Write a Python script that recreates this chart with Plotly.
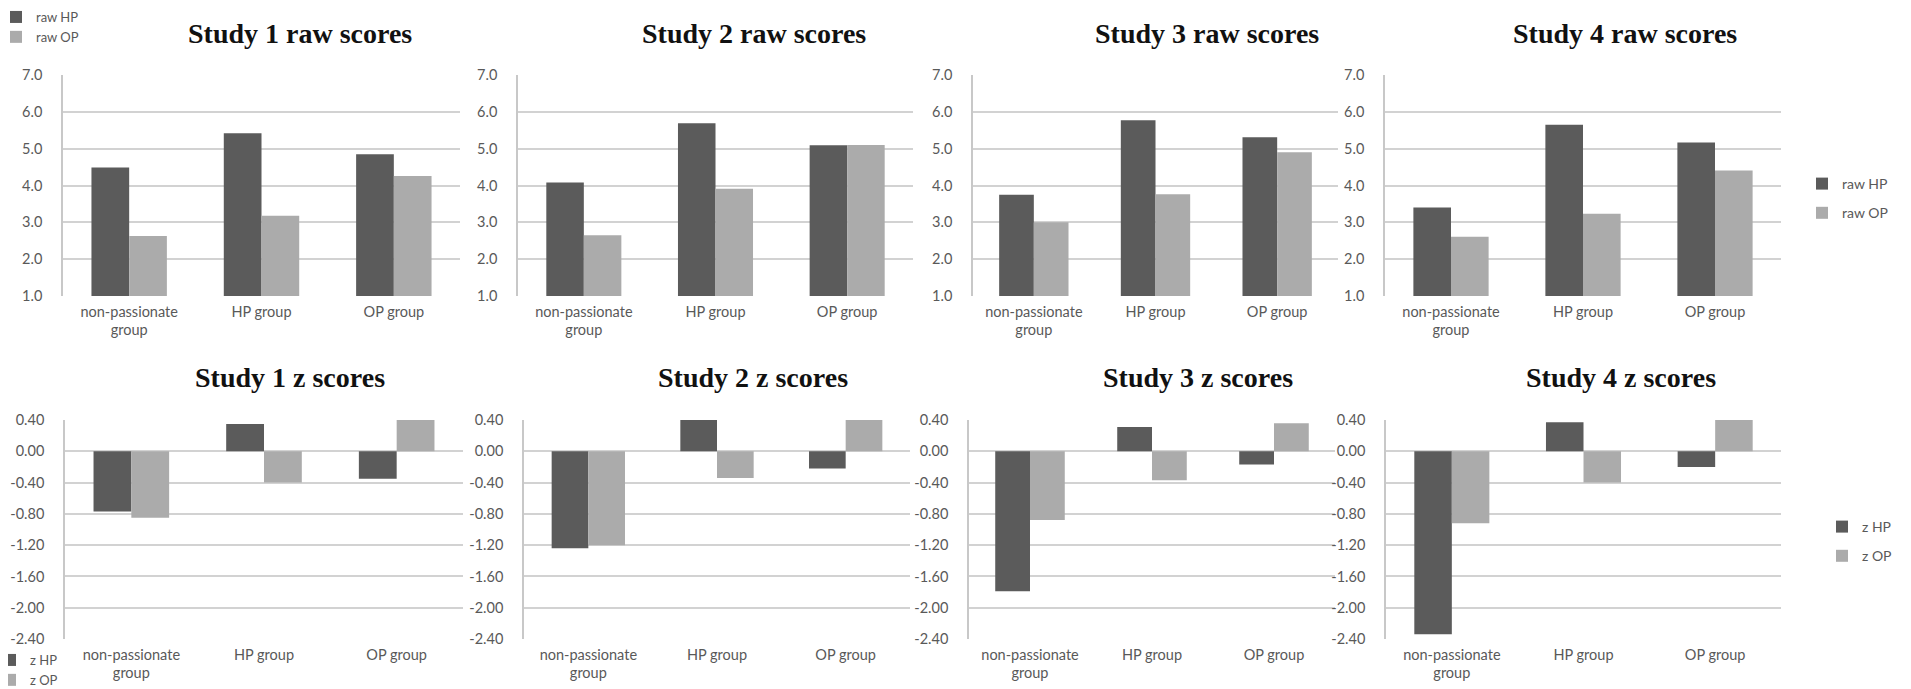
import plotly.graph_objects as go

# ---------------- data ----------------
categories = ["non-passionate<br>group", "HP group", "OP group"]

raw_titles = ["Study 1 raw scores", "Study 2 raw scores", "Study 3 raw scores", "Study 4 raw scores"]
z_titles = ["Study 1 z scores", "Study 2 z scores", "Study 3 z scores", "Study 4 z scores"]

s1_raw_hp = [4.49, 5.42, 4.85]
s1_raw_op = [2.63, 3.18, 4.26]
s2_raw_hp = [4.08, 5.69, 5.09]
s2_raw_op = [2.65, 3.91, 5.10]
s3_raw_hp = [3.75, 5.77, 5.31]
s3_raw_op = [3.00, 3.76, 4.90]
s4_raw_hp = [3.40, 5.65, 5.17]
s4_raw_op = [2.61, 3.23, 4.41]

s1_z_hp = [-0.77, 0.35, -0.35]
s1_z_op = [-0.85, -0.40, 0.40]
s2_z_hp = [-1.24, 0.40, -0.22]
s2_z_op = [-1.20, -0.34, 0.40]
s3_z_hp = [-1.79, 0.31, -0.17]
s3_z_op = [-0.88, -0.37, 0.36]
s4_z_hp = [-2.34, 0.37, -0.20]
s4_z_op = [-0.92, -0.40, 0.40]

raw_tick_vals = [1.0, 2.0, 3.0, 4.0, 5.0, 6.0, 7.0]
raw_tick_text = ["1.0", "2.0", "3.0", "4.0", "5.0", "6.0", "7.0"]
z_tick_vals = [-2.40, -2.00, -1.60, -1.20, -0.80, -0.40, 0.00, 0.40]
z_tick_text = ["-2.40", "-2.00", "-1.60", "-1.20", "-0.80", "-0.40", "0.00", "0.40"]

# ---------------- style ----------------
W, H = 1911, 689
HP_COLOR = "#5b5b5b"
OP_COLOR = "#ababab"
GRID = "#d2d2d2"
TXT = "#595959"
FONT = "Lato"

top_x = [(55, 452), (510, 905), (965, 1330), (1377, 1773)]
bot_x = [(57, 455), (516, 902), (961, 1327), (1378, 1773)]
top_y = (67, 288)
bot_y = (412, 631)
top_title_x = [292, 746, 1199, 1617]
bot_title_x = [282, 745, 1190, 1613]

def px_x(v):
    return v / W

def px_y(v):
    return 1 - v / H

raw_sets = [(s1_raw_hp, s1_raw_op), (s2_raw_hp, s2_raw_op), (s3_raw_hp, s3_raw_op), (s4_raw_hp, s4_raw_op)]
z_sets = [(s1_z_hp, s1_z_op), (s2_z_hp, s2_z_op), (s3_z_hp, s3_z_op), (s4_z_hp, s4_z_op)]

fig = go.Figure()
layout = {}

def ax_name(k):
    return "" if k == 1 else str(k)

for row, sets in enumerate([raw_sets, z_sets]):
    for i, (hp, op) in enumerate(sets):
        k = row * 4 + i + 1
        s = ax_name(k)
        prefix = "raw" if row == 0 else "z"
        if i == 0:
            leg = "legend" if row == 0 else "legend3"
            show = True
        elif i == 3:
            leg = "legend2" if row == 0 else "legend4"
            show = True
        else:
            leg = "legend"
            show = False
        for name, vals, col in [(f"{prefix} HP", hp, HP_COLOR), (f"{prefix} OP", op, OP_COLOR)]:
            fig.add_trace(go.Bar(
                x=categories, y=vals, name=name, marker=dict(color=col, line=dict(width=0)),
                xaxis="x" + s, yaxis="y" + s, legend=leg, showlegend=show,
                legendgroup=name,
            ))
        xr = (top_x if row == 0 else bot_x)[i]
        yr = top_y if row == 0 else bot_y
        layout["xaxis" + s] = dict(
            domain=[px_x(xr[0]), px_x(xr[1])], anchor="y" + s,
            showgrid=False, showline=False, ticks="",
            tickfont=dict(family=FONT, size=14.5, color=TXT),
            ticklabelstandoff=5, fixedrange=True,
        )
        if row == 0:
            yax = dict(range=[1, 7], tickvals=raw_tick_vals, ticktext=raw_tick_text)
        else:
            yax = dict(range=[-2.4, 0.4], tickvals=z_tick_vals, ticktext=z_tick_text)
        yax.update(
            domain=[px_y(yr[1]), px_y(yr[0])], anchor="x" + s,
            showgrid=True, gridcolor=GRID, gridwidth=1.6, zeroline=False,
            showline=True, linecolor="#c8c8c8", linewidth=1.5, ticks="",
            tickfont=dict(family=FONT, size=14.5, color=TXT),
            ticklabelstandoff=16, fixedrange=True,
        )
        layout["yaxis" + s] = yax

annotations = []
for t, cx in zip(raw_titles, top_title_x):
    annotations.append(dict(text=f"<b>{t}</b>", x=px_x(cx), y=px_y(26), xref="paper", yref="paper",
                            xanchor="center", yanchor="middle", showarrow=False,
                            font=dict(family="Liberation Serif", size=28, color="#111111")))
for t, cx in zip(z_titles, bot_title_x):
    annotations.append(dict(text=f"<b>{t}</b>", x=px_x(cx), y=px_y(369), xref="paper", yref="paper",
                            xanchor="center", yanchor="middle", showarrow=False,
                            font=dict(family="Liberation Serif", size=28, color="#111111")))

small_leg = dict(font=dict(family=FONT, size=13, color=TXT), bgcolor="rgba(0,0,0,0)",
                 tracegroupgap=0, xanchor="left", yanchor="top", itemclick=False, itemdoubleclick=False)
big_leg = dict(font=dict(family=FONT, size=14, color=TXT), bgcolor="rgba(0,0,0,0)",
               tracegroupgap=8, xanchor="left", yanchor="top", itemclick=False, itemdoubleclick=False)

fig.update_layout(
    width=W, height=H,
    margin=dict(l=0, r=0, t=0, b=0, pad=0, autoexpand=False),
    paper_bgcolor="white", plot_bgcolor="white",
    barmode="group", bargap=0.43, bargroupgap=0,
    annotations=annotations,
    legend=dict(small_leg, x=px_x(-12), y=px_y(-6)),
    legend2=dict(big_leg, x=px_x(1794), y=px_y(160)),
    legend3=dict(small_leg, x=px_x(-18), y=px_y(637)),
    legend4=dict(big_leg, x=px_x(1814), y=px_y(503)),
    **layout,
)

fig.write_html("out.html")
